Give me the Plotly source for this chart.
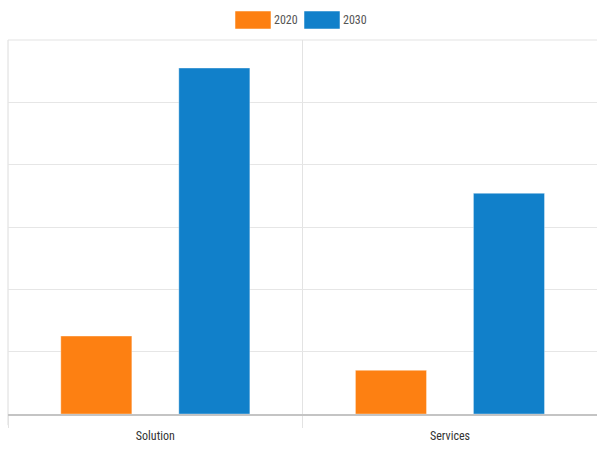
import plotly.graph_objects as go

categories = ["Solution", "Services"]
series_names = ["2020", "2030"]
values_2020 = [1.25, 0.70]
values_2030 = [5.55, 3.54]
colors = ["#fd8012", "#1180ca"]

fig = go.Figure()
for name, vals, col in zip(series_names, [values_2020, values_2030], colors):
    fig.add_trace(go.Bar(
        x=categories, y=vals, name=name,
        marker=dict(color=col, line=dict(color="rgba(255,255,255,0.35)", width=1)),
        showlegend=False,
    ))

FONT = "Liberation Sans Narrow, Arial Narrow, Roboto Condensed, sans-serif"

# frame lines at the left edge and top of the plot area
fig.add_shape(type="line", xref="paper", yref="paper", x0=0, x1=0, y0=-0.03, y1=1,
              line=dict(color="#dcdcdc", width=1), layer="below")
fig.add_shape(type="line", xref="paper", yref="paper", x0=0, x1=1, y0=1, y1=1,
              line=dict(color="#e3e3e3", width=1), layer="below")

# custom legend (wide swatches)
leg_x0 = [235, 304]
for name, col, x0 in zip(series_names, colors, leg_x0):
    fig.add_shape(type="rect", xref="paper", yref="paper",
                  x0=(x0 - 8) / 589, x1=(x0 + 36 - 8) / 589,
                  y0=(414 - 29) / 374, y1=(414 - 11) / 374,
                  fillcolor=col, line=dict(color="rgba(255,255,255,0.5)", width=1))
    fig.add_annotation(xref="paper", yref="paper",
                       x=(x0 + 37 - 8) / 589, y=(414 - 20) / 374,
                       xanchor="left", yanchor="middle", showarrow=False,
                       text=name, font=dict(size=12, color="#555", family=FONT))

fig.update_layout(
    width=600, height=452,
    margin=dict(l=8, r=3, t=40, b=38),
    paper_bgcolor="white", plot_bgcolor="white",
    barmode="group", bargap=0.199, bargroupgap=0.398,
    font=dict(family=FONT, size=12, color="#333"),
)
fig.update_xaxes(
    range=[-0.5, 1.499],
    tickson="boundaries", showgrid=True, gridcolor="#e3e3e3",
    ticks="outside", ticklen=12, tickcolor="#e3e3e3",
    ticklabelstandoff=10,
    showline=True, linecolor="#c4c4c4", linewidth=1.5,
    tickfont=dict(size=12, color="#333"),
)
fig.update_yaxes(
    range=[0, 6], dtick=1, showticklabels=False,
    showgrid=True, gridcolor="#e6e6e6", zeroline=False,
)

fig.write_html(
    "out.html",
    config={"displayModeBar": False},
    post_script="document.body.style.margin='0';document.body.style.overflow='hidden';",
)
